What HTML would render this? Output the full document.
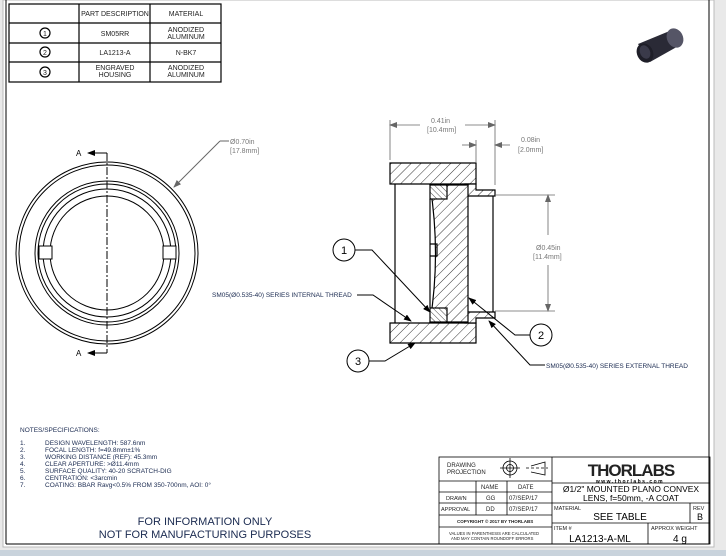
<!DOCTYPE html>
<html><head><meta charset="utf-8"><style>
html,body{margin:0;padding:0;background:#e9e9e9;}
svg{display:block;font-family:"Liberation Sans",sans-serif;}
</style></head><body>
<svg width="726" height="556" viewBox="0 0 726 556" xmlns="http://www.w3.org/2000/svg">
<defs>
<pattern id="h" patternUnits="userSpaceOnUse" width="7" height="7" patternTransform="rotate(45)">
<rect width="7" height="7" fill="#fff"/><line x1="0" y1="0" x2="0" y2="7" stroke="#000" stroke-width="0.8"/></pattern>
<pattern id="h2" patternUnits="userSpaceOnUse" width="4" height="4" patternTransform="rotate(-45)">
<rect width="4" height="4" fill="#fff"/><line x1="0" y1="0" x2="0" y2="4" stroke="#000" stroke-width="0.7"/></pattern>
<marker id="ar" markerWidth="8" markerHeight="6" refX="7" refY="3" orient="auto" markerUnits="userSpaceOnUse"><path d="M0,0 L8,3 L0,6 z" fill="#000"/></marker>
<marker id="ag" markerWidth="8" markerHeight="6" refX="7" refY="3" orient="auto" markerUnits="userSpaceOnUse"><path d="M0,0 L8,3 L0,6 z" fill="#666"/></marker>
</defs>
<rect x="0" y="0" width="726" height="556" fill="#e9e9e9"/>
<rect x="3" y="0" width="711" height="547" fill="#fff" stroke="#bbb"/>
<rect x="0" y="550" width="726" height="6" fill="#c9d3dc"/>
<line x1="6" y1="0" x2="6" y2="544" stroke="#000"/>
<line x1="709" y1="0" x2="709" y2="544" stroke="#000"/>
<line x1="6" y1="544" x2="709" y2="544" stroke="#000"/>

<!-- parts table -->
<g stroke="#000" fill="none" stroke-width="1.2">
<rect x="9" y="4" width="212" height="78"/>
<line x1="79" y1="4" x2="79" y2="82"/><line x1="150" y1="4" x2="150" y2="82"/>
<line x1="9" y1="23" x2="221" y2="23"/><line x1="9" y1="43" x2="221" y2="43"/><line x1="9" y1="62" x2="221" y2="62"/>
<circle cx="45" cy="33" r="5"/><circle cx="45" cy="52" r="5"/><circle cx="45" cy="72" r="5"/>
</g>
<g font-size="7" text-anchor="middle" fill="#222">
<text x="115" y="16">PART DESCRIPTION</text><text x="186" y="16">MATERIAL</text>
<text x="45" y="36" font-size="7">1</text><text x="45" y="55">2</text><text x="45" y="75">3</text>
<text x="115" y="36">SM05RR</text><text x="186" y="32">ANODIZED</text><text x="186" y="39">ALUMINUM</text>
<text x="115" y="55">LA1213-A</text><text x="186" y="55">N-BK7</text>
<text x="115" y="70">ENGRAVED</text><text x="115" y="77">HOUSING</text>
<text x="186" y="70">ANODIZED</text><text x="186" y="77">ALUMINUM</text>
</g>

<!-- product image -->
<g>
<path d="M638,44 L672,30 L682,44 L650,62 Z" fill="#2a2a36"/>
<ellipse cx="645" cy="53" rx="8" ry="10" fill="#1e1e28" transform="rotate(-25 645 53)"/>
<ellipse cx="675" cy="38" rx="8" ry="10" fill="#555566" transform="rotate(-25 675 38)"/>
<ellipse cx="645" cy="52" rx="5" ry="7" fill="#3a3a4a" transform="rotate(-25 645 52)"/>
</g>

<!-- front view -->
<g stroke="#000" fill="none" stroke-width="1">
<circle cx="107" cy="253" r="91"/><circle cx="107" cy="253" r="88"/>
<circle cx="107" cy="253" r="72"/><circle cx="107" cy="253" r="69"/><circle cx="107" cy="253" r="64"/>
<circle cx="107" cy="253" r="57"/>
<rect x="39" y="246" width="13" height="13" fill="#fff"/><rect x="163" y="246" width="13" height="13" fill="#fff"/>
<line x1="107" y1="153" x2="107" y2="353" stroke-dasharray="8,2,2,2"/>
<line x1="107" y1="153" x2="88" y2="153" marker-end="url(#ar)"/>
<line x1="107" y1="353" x2="88" y2="353" marker-end="url(#ar)"/>
</g>
<text x="76" y="156" font-size="8">A</text><text x="76" y="356" font-size="8">A</text>
<g stroke="#666" fill="none"><line x1="229" y1="141" x2="220" y2="141"/><line x1="220" y1="141" x2="174" y2="187" marker-end="url(#ag)"/></g>
<text x="230" y="144" font-size="7" fill="#777">Ø0.70in</text><text x="230" y="153" font-size="7" fill="#777">[17.8mm]</text>

<!-- section view -->
<g stroke="#000" stroke-width="1.2">
<path d="M390,163 H476 V184 H390 Z" fill="url(#h)"/>
<path d="M390,323 H476 V343 H390 Z" fill="url(#h)"/>
<path d="M465,184 H476 V190 H495 V196 H465 Z" fill="url(#h)"/>
<path d="M465,312 H495 V318 H476 V323 H465 Z" fill="url(#h)"/>
<path d="M430,185 H468 V322 H430 Q441,254 430,185 Z" fill="url(#h)"/>
<rect x="430" y="185" width="17" height="14" fill="url(#h2)"/>
<rect x="430" y="308" width="17" height="14" fill="url(#h2)"/>
<line x1="395" y1="184" x2="395" y2="323" fill="none"/>
<line x1="493" y1="196" x2="493" y2="312" fill="none"/>
<line x1="430" y1="199" x2="430" y2="308" fill="none"/>
<path d="M430,244 H437 V256 H430" fill="none"/>
</g>
<!-- dims -->
<g stroke="#666" fill="none" stroke-width="0.8">
<line x1="390" y1="120" x2="390" y2="160"/><line x1="495" y1="120" x2="495" y2="185"/><line x1="476" y1="140" x2="476" y2="163"/>
<line x1="420" y1="125" x2="390" y2="125" marker-end="url(#ag)"/><line x1="465" y1="125" x2="495" y2="125" marker-end="url(#ag)"/>
<line x1="462" y1="145" x2="476" y2="145" marker-end="url(#ag)"/><line x1="510" y1="145" x2="495" y2="145" marker-end="url(#ag)"/>
<line x1="495" y1="195" x2="555" y2="195"/><line x1="495" y1="311" x2="555" y2="311"/>
<line x1="548" y1="235" x2="548" y2="195" marker-end="url(#ag)"/><line x1="548" y1="265" x2="548" y2="311" marker-end="url(#ag)"/>
</g>
<g font-size="7" fill="#777">
<text x="431" y="123">0.41in</text><text x="427" y="132">[10.4mm]</text>
<text x="521" y="142">0.08in</text><text x="518" y="152">[2.0mm]</text>
<text x="536" y="250">Ø0.45in</text><text x="533" y="259">[11.4mm]</text>
</g>
<!-- balloons -->
<g stroke="#000" fill="none" stroke-width="1">
<circle cx="344" cy="250" r="11"/><circle cx="541" cy="335" r="11"/><circle cx="358" cy="361" r="11"/>
<path d="M355,250 H372 L430,312" marker-end="url(#ar)"/>
<path d="M530,335 H515 L469,298" marker-end="url(#ar)"/>
<path d="M369,361 H385 L415,343" marker-end="url(#ar)"/>
<path d="M357,295 H373 L411,321" marker-end="url(#ar)"/>
<path d="M545,365 H530 L489,321" marker-end="url(#ar)"/>
</g>
<g font-size="11" text-anchor="middle"><text x="344" y="254">1</text><text x="541" y="339">2</text><text x="358" y="365">3</text></g>
<g font-size="6.5" fill="#1a2a50">
<text x="212" y="297">SM05(Ø0.535-40) SERIES INTERNAL THREAD</text>
<text x="546" y="368">SM05(Ø0.535-40) SERIES EXTERNAL THREAD</text>
</g>

<!-- notes -->
<g font-size="6.5" fill="#1a2a50">
<text x="20" y="432">NOTES/SPECIFICATIONS:</text>
<text x="20" y="445">1.</text><text x="45" y="445">DESIGN WAVELENGTH: 587.6nm</text>
<text x="20" y="452">2.</text><text x="45" y="452">FOCAL LENGTH: f=49.8mm±1%</text>
<text x="20" y="459">3.</text><text x="45" y="459">WORKING DISTANCE (REF): 45.3mm</text>
<text x="20" y="466">4.</text><text x="45" y="466">CLEAR APERTURE: &gt;Ø11.4mm</text>
<text x="20" y="473">5.</text><text x="45" y="473">SURFACE QUALITY: 40-20 SCRATCH-DIG</text>
<text x="20" y="480">6.</text><text x="45" y="480">CENTRATION: &lt;3arcmin</text>
<text x="20" y="487">7.</text><text x="45" y="487">COATING: BBAR Ravg&lt;0.5% FROM 350-700nm, AOI: 0°</text>
</g>
<g font-size="11" fill="#1a2a50" text-anchor="middle">
<text x="205" y="525">FOR INFORMATION ONLY</text><text x="205" y="538">NOT FOR MANUFACTURING PURPOSES</text>
</g>

<!-- title block -->
<g stroke="#000" fill="none" stroke-width="0.8">
<rect x="439" y="457" width="271" height="87"/>
<line x1="552" y1="457" x2="552" y2="544"/>
<line x1="439" y1="481" x2="552" y2="481"/><line x1="439" y1="492" x2="552" y2="492"/>
<line x1="439" y1="503" x2="552" y2="503"/><line x1="439" y1="515" x2="552" y2="515"/><line x1="439" y1="527" x2="552" y2="527"/>
<line x1="476" y1="481" x2="476" y2="515"/><line x1="507" y1="481" x2="507" y2="515"/>
<line x1="552" y1="483" x2="710" y2="483"/><line x1="552" y1="503" x2="710" y2="503"/><line x1="552" y1="523" x2="710" y2="523"/>
<line x1="690" y1="503" x2="690" y2="523"/><line x1="648" y1="523" x2="648" y2="544"/>
<circle cx="510" cy="468" r="7"/><circle cx="510" cy="468" r="3.5"/><line x1="500" y1="468" x2="520" y2="468"/><line x1="510" y1="458" x2="510" y2="478"/>
<path d="M531,466 L545,462 V475 L531,472"/><line x1="526" y1="468" x2="548" y2="468" stroke-dasharray="3,2"/>
</g>
<g font-size="6" fill="#222">
<text x="447" y="467">DRAWING</text><text x="447" y="474">PROJECTION</text>
<text x="481" y="489">NAME</text><text x="518" y="489">DATE</text>
<text x="446" y="500" font-size="5.5">DRAWN</text><text x="486" y="500">GG</text><text x="509" y="500">07/SEP/17</text>
<text x="441" y="511" font-size="5.5">APPROVAL</text><text x="486" y="511">DD</text><text x="509" y="511">07/SEP/17</text>
<text x="457" y="523" font-size="4.5" font-weight="bold">COPYRIGHT © 2017 BY THORLABS</text>
<text x="449" y="535" font-size="4.2">VALUES IN PARENTHESIS ARE CALCULATED</text>
<text x="451" y="540" font-size="4.2">AND MAY CONTAIN ROUNDOFF ERRORS</text>
<text x="554" y="510" font-size="5.5">MATERIAL</text><text x="693" y="510" font-size="5.5">REV</text>
<text x="554" y="530" font-size="5.5">ITEM #</text><text x="651" y="530" font-size="5.5">APPROX WEIGHT</text>
</g>
<text x="631" y="476" font-size="17" font-weight="bold" text-anchor="middle" fill="#222" letter-spacing="-1">THORLABS</text>
<text x="630" y="483" font-size="5" text-anchor="middle" letter-spacing="1.5" font-weight="bold">www.thorlabs.com</text>
<text x="631" y="492" font-size="8.5" text-anchor="middle">Ø1/2" MOUNTED PLANO CONVEX</text>
<text x="631" y="501" font-size="8.5" text-anchor="middle">LENS, f=50mm, -A COAT</text>
<text x="620" y="520" font-size="10" text-anchor="middle">SEE TABLE</text>
<text x="700" y="520" font-size="9" text-anchor="middle">B</text>
<text x="600" y="542" font-size="10" text-anchor="middle">LA1213-A-ML</text>
<text x="680" y="542" font-size="10" text-anchor="middle">4 g</text>
</svg>
</body></html>
